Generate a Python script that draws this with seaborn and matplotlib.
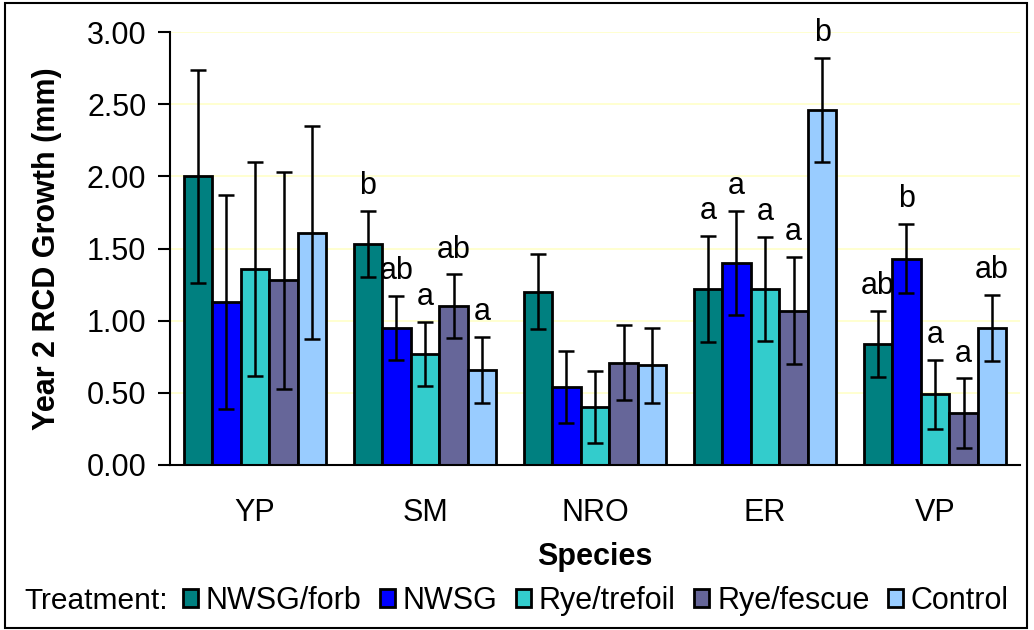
import matplotlib
matplotlib.use("Agg")
import matplotlib.pyplot as plt
from matplotlib.patches import Rectangle
import seaborn as sns
import pandas as pd

species = ["YP", "SM", "NRO", "ER", "VP"]
treatments = ["NWSG/forb", "NWSG", "Rye/trefoil", "Rye/fescue", "Control"]
colors = ["#008080", "#0000FF", "#33CCCC", "#666699", "#99CCFF"]

# means per treatment across species
nwsg_forb = [2.00, 1.53, 1.20, 1.22, 0.84]
nwsg = [1.13, 0.95, 0.54, 1.40, 1.43]
rye_trefoil = [1.36, 0.77, 0.40, 1.22, 0.49]
rye_fescue = [1.28, 1.10, 0.71, 1.07, 0.36]
control = [1.61, 0.66, 0.69, 2.46, 0.95]

# standard errors
se_nwsg_forb = [0.74, 0.23, 0.26, 0.37, 0.23]
se_nwsg = [0.74, 0.22, 0.25, 0.36, 0.24]
se_rye_trefoil = [0.74, 0.22, 0.25, 0.36, 0.24]
se_rye_fescue = [0.75, 0.22, 0.26, 0.37, 0.24]
se_control = [0.74, 0.23, 0.26, 0.36, 0.23]

# significance letters
let_nwsg_forb = ["", "b", "", "a", "ab"]
let_nwsg = ["", "ab", "", "a", "b"]
let_rye_trefoil = ["", "a", "", "a", "a"]
let_rye_fescue = ["", "ab", "", "a", "a"]
let_control = ["", "a", "", "b", "ab"]

means = [nwsg_forb, nwsg, rye_trefoil, rye_fescue, control]
ses = [se_nwsg_forb, se_nwsg, se_rye_trefoil, se_rye_fescue, se_control]
letters = [let_nwsg_forb, let_nwsg, let_rye_trefoil, let_rye_fescue, let_control]

rows = []
for t, vals in zip(treatments, means):
    for s, v in zip(species, vals):
        rows.append({"Species": s, "Treatment": t, "Growth": v})
df = pd.DataFrame(rows)

sns.set_style("white")
plt.rcParams["font.family"] = ["Liberation Sans", "DejaVu Sans"]
plt.rcParams["text.color"] = "black"
plt.rcParams["axes.labelcolor"] = "black"
plt.rcParams["xtick.color"] = "black"
plt.rcParams["ytick.color"] = "black"

FS = 22

fig = plt.figure(figsize=(10.34, 6.30), dpi=100)
ax = fig.add_axes([170 / 1034, 1 - 465 / 630, 850 / 1034, 433 / 630])

sns.barplot(data=df, x="Species", y="Growth", hue="Treatment",
            order=species, hue_order=treatments, palette=colors,
            errorbar=None, width=0.84, gap=0, saturation=1,
            edgecolor="black", linewidth=2.0, ax=ax, zorder=2)

bar_containers = list(ax.containers)
for i, cont in enumerate(bar_containers):
    for j, bar in enumerate(cont.patches):
        x = bar.get_x() + bar.get_width() / 2
        h = bar.get_height()
        e = ses[i][j]
        ax.errorbar(x, h, yerr=e, fmt="none", ecolor="black",
                    elinewidth=1.8, capsize=5.8, capthick=1.8, zorder=3)
        if letters[i][j]:
            ax.annotate(letters[i][j], (x, h + e), xytext=(0, 12),
                        textcoords="offset points", ha="center",
                        va="baseline", fontsize=FS, color="black")

ax.set_ylim(0, 3.0)
ax.set_xlim(-0.5, 4.5)
ax.set_yticks([0, 0.5, 1.0, 1.5, 2.0, 2.5, 3.0])
ax.set_yticklabels([f"{v:.2f}" for v in [0, 0.5, 1.0, 1.5, 2.0, 2.5, 3.0]])
ax.yaxis.grid(True, color="#FFFFC8", linewidth=1.2, zorder=0)
ax.set_axisbelow(True)

ax.set_xticks(range(len(species)))
ax.set_xticklabels(species)
ax.set_xticks([-0.5, 0.5, 1.5, 2.5, 3.5, 4.5], minor=True)
ax.tick_params(axis="x", which="major", length=0, pad=24, labelsize=FS, labelcolor="black")
ax.tick_params(axis="x", which="minor", length=6, width=1.5, direction="out", color="black")
ax.tick_params(axis="y", length=9, width=1.5, direction="out", color="black",
               labelsize=FS, pad=8, left=True, labelcolor="black")

for side in ["top", "right"]:
    ax.spines[side].set_visible(False)
for side in ["left", "bottom"]:
    ax.spines[side].set_color("black")
    ax.spines[side].set_linewidth(1.5)

ax.set_xlabel("Species", fontsize=FS, fontweight="bold", labelpad=10, color="black")
ax.set_ylabel("Year 2 RCD Growth (mm)", fontsize=FS, fontweight="bold", labelpad=18, color="black")

handles, labels = ax.get_legend_handles_labels()
if ax.get_legend() is not None:
    ax.get_legend().remove()
fig.text(24 / 1034, 1 - 601 / 630, "Treatment:", fontsize=21.5, va="center", ha="left", color="black")
leg = fig.legend(handles, labels, loc="center left", bbox_to_anchor=(183 / 1034, 1 - 601 / 630),
                 ncol=5, frameon=False, fontsize=22, handlelength=0.5, handleheight=0.5,
                 handletextpad=0.25, columnspacing=0.6, borderpad=0, borderaxespad=0)
for t in leg.get_texts():
    t.set_color("black")

fig.patches.append(Rectangle((5 / 1034, 2 / 630), 1022 / 1034, 625 / 630,
                             transform=fig.transFigure, fill=False,
                             edgecolor="black", linewidth=1.5))

fig.savefig("out.png", dpi=100)
